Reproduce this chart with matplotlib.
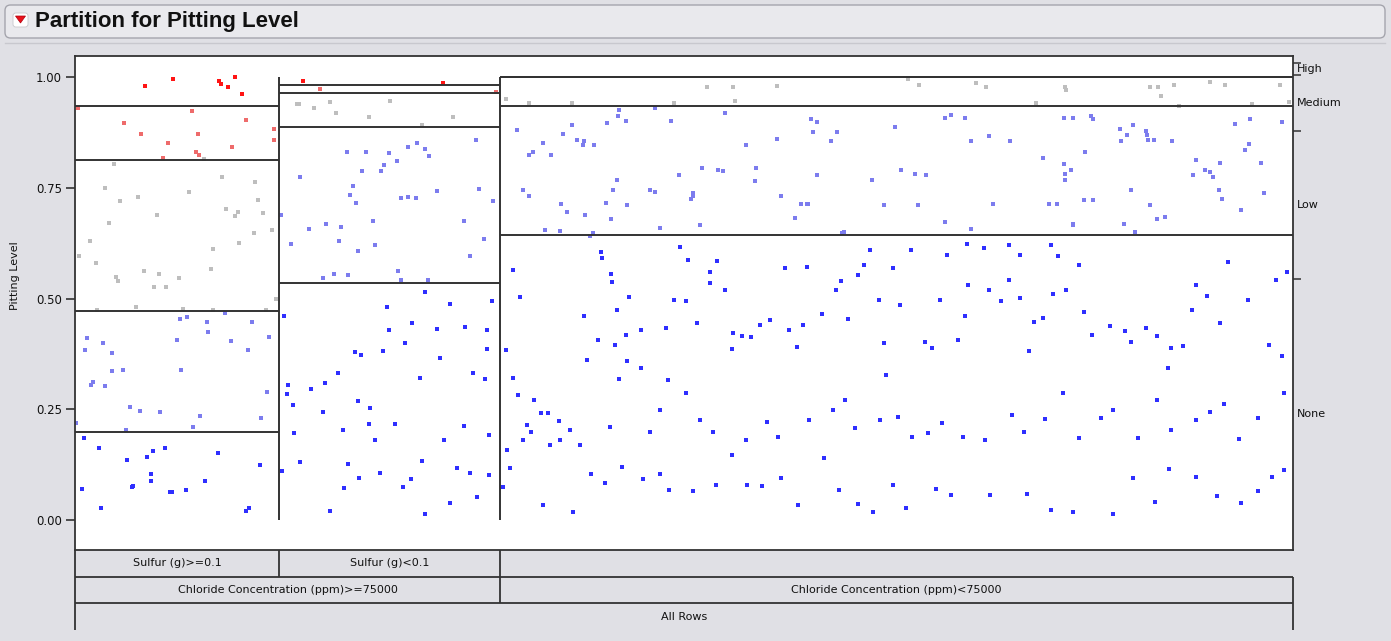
import matplotlib.pyplot as plt
from matplotlib.patches import FancyBboxPatch, Polygon
from matplotlib.lines import Line2D
import numpy as np

# Response levels, bottom to top, and their point colours
levels = ["None", "Low", "Medium", "High", ""]
level_colors = ["#2F2FFF", "#7C7CEE", "#BEBEBE", "#EE6B6B", "#FF1414"]

# Leaves of the tree: share of rows and level proportions (bottom to top)
leaf_labels = ["Sulfur (g)>=0.1", "Sulfur (g)<0.1", ""]
leaf_sizes = [0.1675, 0.1814, 0.6511]
leaf_props = [
    [0.199, 0.273, 0.341, 0.122, 0.065],
    [0.535, 0.352, 0.077, 0.018, 0.018],
    [0.643, 0.291, 0.066, 0.0, 0.0],
]
split_labels = ["Chloride Concentration (ppm)>=75000", "Chloride Concentration (ppm)<75000"]
split_leaves = [2, 1]
root_label = "All Rows"

# Jittered rows: x = position along the row axis, y = position within level band
top_x = [0.0575, 0.0805, 0.118, 0.120, 0.126, 0.131, 0.137, 0.187, 0.302]
top_y = [0.980, 0.995, 0.991, 0.984, 0.977, 1.000, 0.962, 0.991, 0.986]

high_x = [0.0025, 0.096, 0.040, 0.140, 0.054, 0.101, 0.163, 0.163, 0.076, 0.129,
          0.099, 0.102, 0.072, 0.201, 0.346]
high_y = [0.930, 0.923, 0.896, 0.903, 0.871, 0.871, 0.883, 0.858, 0.851, 0.842,
          0.831, 0.824, 0.817, 0.973, 0.966]

medium_x = [0.106, 0.032, 0.121, 0.148, 0.025, 0.094, 0.052, 0.150, 0.037, 0.124,
            0.134, 0.154, 0.067, 0.131, 0.028, 0.162, 0.147, 0.012, 0.135, 0.113,
            0.003, 0.017, 0.112, 0.057, 0.069, 0.034, 0.035, 0.085, 0.065, 0.075,
            0.165, 0.050, 0.018, 0.089, 0.113, 0.157,
            0.182, 0.184, 0.196, 0.209, 0.214, 0.241, 0.259, 0.285, 0.310,
            0.354, 0.373, 0.408, 0.492, 0.519, 0.540, 0.542, 0.576, 0.684, 0.693,
            0.740, 0.748, 0.789, 0.813, 0.814, 0.883, 0.889, 0.892, 0.902, 0.932,
            0.944, 0.989, 0.997, 0.906, 0.966]
medium_y = [0.815, 0.804, 0.774, 0.763, 0.749, 0.740, 0.729, 0.722, 0.720, 0.702,
            0.695, 0.693, 0.688, 0.686, 0.670, 0.655, 0.648, 0.630, 0.625, 0.612,
            0.596, 0.580, 0.567, 0.562, 0.555, 0.549, 0.540, 0.546, 0.526, 0.526,
            0.499, 0.481, 0.474, 0.476, 0.474, 0.474,
            0.939, 0.939, 0.930, 0.944, 0.919, 0.910, 0.946, 0.892, 0.910,
            0.950, 0.941, 0.941, 0.941, 0.977, 0.977, 0.946, 0.979, 0.995, 0.982,
            0.986, 0.977, 0.941, 0.977, 0.970, 0.977, 0.977, 0.956, 0.981, 0.989,
            0.982, 0.982, 0.944, 0.934, 0.938]

low_x = [0.123, 0.086, 0.092, 0.108, 0.145, 0.109, 0.010, 0.023, 0.084, 0.128,
         0.159, 0.008, 0.030, 0.142, 0.030, 0.039, 0.087, 0.015, 0.013, 0.025,
         0.158, 0.045, 0.053, 0.070, 0.103, 0.153, 0.001, 0.097, 0.042,
         0.329, 0.223, 0.239, 0.258, 0.273, 0.281, 0.287, 0.291, 0.264, 0.254,
         0.236, 0.251, 0.185, 0.228, 0.226, 0.231, 0.268, 0.273, 0.280, 0.297,
         0.332, 0.343, 0.169, 0.245, 0.206, 0.218, 0.192, 0.319, 0.177, 0.217,
         0.246, 0.232, 0.336, 0.324, 0.265, 0.204, 0.213, 0.224, 0.268, 0.290,
         0.447, 0.476, 0.446, 0.452, 0.437, 0.489, 0.534, 0.363, 0.408, 0.401,
         0.384, 0.412, 0.417, 0.576, 0.551, 0.376, 0.373, 0.391, 0.418, 0.426,
         0.515, 0.528, 0.532, 0.559, 0.496, 0.445, 0.368, 0.442, 0.472, 0.558,
         0.373, 0.476, 0.507, 0.507, 0.399, 0.436, 0.453, 0.506, 0.404, 0.419,
         0.440, 0.480, 0.513, 0.386, 0.398, 0.425, 0.423,
         0.604, 0.609, 0.606, 0.626, 0.621, 0.673, 0.719, 0.714, 0.731, 0.736,
         0.768, 0.750, 0.795, 0.812, 0.818, 0.678, 0.690, 0.699, 0.609, 0.654,
         0.813, 0.580, 0.596, 0.601, 0.692, 0.806, 0.602, 0.664, 0.754, 0.800,
         0.591, 0.714, 0.736, 0.819, 0.630, 0.631,
         0.812, 0.819, 0.834, 0.836, 0.869, 0.858, 0.864, 0.879, 0.880, 0.881,
         0.886, 0.859, 0.901, 0.829, 0.952, 0.965, 0.991, 0.964, 0.961, 0.974,
         0.920, 0.940, 0.928, 0.932, 0.918, 0.934, 0.813, 0.867, 0.939, 0.942,
         0.976, 0.828, 0.836, 0.883, 0.888, 0.957, 0.819, 0.861, 0.870, 0.895]
low_y = [0.467, 0.454, 0.458, 0.447, 0.447, 0.424, 0.411, 0.400, 0.406, 0.404,
         0.413, 0.384, 0.377, 0.384, 0.336, 0.339, 0.339, 0.312, 0.305, 0.302,
         0.289, 0.255, 0.246, 0.244, 0.235, 0.230, 0.219, 0.210, 0.203,
         0.858, 0.831, 0.831, 0.828, 0.842, 0.851, 0.837, 0.822, 0.810, 0.801,
         0.788, 0.788, 0.774, 0.754, 0.734, 0.716, 0.727, 0.729, 0.727, 0.743,
         0.747, 0.720, 0.688, 0.675, 0.668, 0.661, 0.657, 0.675, 0.623, 0.630,
         0.621, 0.607, 0.634, 0.596, 0.562, 0.546, 0.555, 0.553, 0.542, 0.542,
         0.925, 0.930, 0.912, 0.901, 0.897, 0.901, 0.918, 0.880, 0.891, 0.871,
         0.851, 0.858, 0.846, 0.859, 0.846, 0.831, 0.824, 0.825, 0.856, 0.846,
         0.794, 0.790, 0.787, 0.794, 0.779, 0.767, 0.745, 0.745, 0.745, 0.765,
         0.731, 0.740, 0.731, 0.738, 0.713, 0.716, 0.711, 0.725, 0.695, 0.688,
         0.680, 0.660, 0.665, 0.654, 0.652, 0.647, 0.641,
         0.905, 0.898, 0.876, 0.876, 0.856, 0.887, 0.915, 0.908, 0.908, 0.856,
         0.856, 0.866, 0.817, 0.804, 0.790, 0.790, 0.781, 0.778, 0.778, 0.767,
         0.767, 0.731, 0.713, 0.713, 0.711, 0.713, 0.713, 0.711, 0.713, 0.713,
         0.681, 0.673, 0.657, 0.668, 0.648, 0.650,
         0.908, 0.908, 0.912, 0.905, 0.891, 0.882, 0.869, 0.878, 0.869, 0.858,
         0.858, 0.856, 0.856, 0.831, 0.894, 0.905, 0.898, 0.849, 0.835, 0.805,
         0.813, 0.806, 0.790, 0.786, 0.779, 0.774, 0.780, 0.745, 0.745, 0.725,
         0.738, 0.722, 0.722, 0.711, 0.679, 0.700, 0.666, 0.668, 0.650, 0.685]

none_x = [0.007, 0.020, 0.064, 0.074, 0.043, 0.059, 0.117, 0.152, 0.062, 0.062,
          0.107, 0.006, 0.047, 0.048, 0.078, 0.080, 0.091, 0.021, 0.143, 0.140,
          0.287, 0.308, 0.342, 0.256, 0.172, 0.175, 0.174, 0.179, 0.180, 0.170,
          0.185, 0.235, 0.230, 0.253, 0.258, 0.277, 0.297, 0.320, 0.338, 0.338,
          0.327, 0.337, 0.300, 0.271, 0.283, 0.194, 0.205, 0.216, 0.204, 0.232,
          0.242, 0.241, 0.220, 0.246, 0.263, 0.303, 0.319, 0.340, 0.224, 0.233,
          0.250, 0.276, 0.285, 0.314, 0.324, 0.340, 0.221, 0.269, 0.308, 0.330,
          0.209, 0.287,
          0.360, 0.365, 0.354, 0.360, 0.432, 0.433, 0.440, 0.441, 0.455, 0.445,
          0.418, 0.429, 0.443, 0.452, 0.465, 0.453, 0.465, 0.447, 0.420, 0.485,
          0.492, 0.497, 0.503, 0.521, 0.502, 0.511, 0.521, 0.527, 0.534, 0.540,
          0.539, 0.548, 0.555, 0.562, 0.571, 0.583, 0.586, 0.593, 0.598, 0.601,
          0.613, 0.625, 0.629, 0.635, 0.643, 0.648, 0.653, 0.660, 0.664, 0.666,
          0.672, 0.677, 0.686, 0.698, 0.704, 0.710, 0.716, 0.725, 0.731, 0.732,
          0.733, 0.746, 0.750, 0.760, 0.767, 0.767, 0.776, 0.776, 0.783, 0.787,
          0.795, 0.801, 0.803, 0.807, 0.814, 0.824, 0.828, 0.835, 0.850, 0.862,
          0.867, 0.879, 0.888, 0.897, 0.900, 0.910, 0.917, 0.920, 0.929, 0.940,
          0.947, 0.963, 0.986, 0.995, 0.991, 0.980,
          0.364, 0.377, 0.383, 0.388, 0.371, 0.374, 0.368, 0.390, 0.398, 0.355,
          0.397, 0.406, 0.415, 0.439, 0.472, 0.480, 0.487, 0.502, 0.513, 0.524,
          0.551, 0.568, 0.577, 0.603, 0.622, 0.632, 0.640, 0.661, 0.676, 0.687,
          0.700, 0.712, 0.729, 0.747, 0.769, 0.779, 0.796, 0.811, 0.824, 0.842,
          0.852, 0.873, 0.888, 0.900, 0.920, 0.932, 0.943, 0.956, 0.971, 0.993,
          0.351, 0.357, 0.384, 0.409, 0.424, 0.435, 0.449, 0.466, 0.480, 0.488,
          0.507, 0.526, 0.539, 0.552, 0.564, 0.580, 0.594, 0.615, 0.627, 0.643,
          0.655, 0.672, 0.682, 0.707, 0.719, 0.751, 0.782, 0.801, 0.819, 0.852,
          0.869, 0.887, 0.898, 0.920, 0.938, 0.957, 0.971, 0.983, 0.993]
none_y = [0.185, 0.163, 0.156, 0.163, 0.135, 0.142, 0.151, 0.124, 0.104, 0.088,
          0.088, 0.070, 0.074, 0.077, 0.063, 0.063, 0.068, 0.027, 0.027, 0.020,
          0.515, 0.488, 0.494, 0.481, 0.460, 0.305, 0.284, 0.260, 0.196, 0.111,
          0.131, 0.372, 0.379, 0.381, 0.429, 0.445, 0.431, 0.436, 0.429, 0.386,
          0.332, 0.318, 0.366, 0.400, 0.321, 0.296, 0.309, 0.332, 0.244, 0.269,
          0.253, 0.217, 0.203, 0.181, 0.217, 0.181, 0.212, 0.192, 0.126, 0.095,
          0.106, 0.093, 0.133, 0.117, 0.106, 0.102, 0.072, 0.074, 0.038, 0.052,
          0.020, 0.014,
          0.564, 0.503, 0.384, 0.320, 0.605, 0.591, 0.555, 0.537, 0.503, 0.474,
          0.460, 0.406, 0.395, 0.418, 0.429, 0.359, 0.343, 0.318, 0.361, 0.433,
          0.497, 0.616, 0.587, 0.560, 0.494, 0.445, 0.535, 0.585, 0.519, 0.422,
          0.386, 0.415, 0.413, 0.440, 0.451, 0.569, 0.429, 0.390, 0.440, 0.571,
          0.465, 0.519, 0.539, 0.454, 0.553, 0.576, 0.609, 0.497, 0.400, 0.327,
          0.569, 0.485, 0.609, 0.402, 0.388, 0.497, 0.598, 0.406, 0.460, 0.623,
          0.530, 0.614, 0.519, 0.494, 0.542, 0.621, 0.598, 0.501, 0.381, 0.447,
          0.456, 0.621, 0.510, 0.596, 0.519, 0.576, 0.469, 0.418, 0.438, 0.427,
          0.402, 0.433, 0.415, 0.343, 0.388, 0.393, 0.474, 0.530, 0.506, 0.445,
          0.582, 0.497, 0.542, 0.560, 0.370, 0.395,
          0.282, 0.271, 0.242, 0.242, 0.214, 0.199, 0.181, 0.169, 0.181, 0.158,
          0.223, 0.203, 0.169, 0.210, 0.199, 0.248, 0.316, 0.287, 0.226, 0.199,
          0.181, 0.221, 0.187, 0.226, 0.248, 0.271, 0.208, 0.226, 0.232, 0.187,
          0.196, 0.219, 0.187, 0.181, 0.237, 0.199, 0.228, 0.287, 0.185, 0.230,
          0.248, 0.185, 0.271, 0.203, 0.226, 0.244, 0.262, 0.183, 0.230, 0.287,
          0.074, 0.117, 0.034, 0.018, 0.104, 0.084, 0.120, 0.093, 0.104, 0.068,
          0.065, 0.079, 0.147, 0.079, 0.077, 0.095, 0.034, 0.140, 0.068, 0.036,
          0.018, 0.079, 0.027, 0.070, 0.056, 0.056, 0.059, 0.023, 0.018, 0.014,
          0.095, 0.041, 0.115, 0.097, 0.054, 0.038, 0.065, 0.097, 0.113]

level_points = [(none_x, none_y), (low_x, low_y), (medium_x, medium_y),
                (high_x, high_y), (top_x, top_y)]

bg = "#E0E0E5"
frame = "#333333"
W, H = 1391, 641

fig = plt.figure(figsize=(W / 100, H / 100), dpi=100, facecolor=bg)

# report header bar with the disclosure triangle
fig.patches.append(FancyBboxPatch((5 / W, 1 - 38 / H), 1380 / W, 33 / H,
                                  boxstyle="round,pad=0,rounding_size=0.004",
                                  mutation_aspect=W / H, transform=fig.transFigure,
                                  facecolor="#E9E9ED", edgecolor="#A5A5AD", lw=1.0))
fig.patches.append(FancyBboxPatch((13 / W, 1 - 27 / H), 15 / W, 14 / H,
                                  boxstyle="round,pad=0,rounding_size=0.002",
                                  mutation_aspect=W / H, transform=fig.transFigure,
                                  facecolor="white", edgecolor="#C8C8CC", lw=0.6))
fig.patches.append(Polygon([(15.5 / W, 1 - 16 / H), (25.5 / W, 1 - 16 / H), (20.5 / W, 1 - 23 / H)],
                           closed=True, transform=fig.transFigure,
                           facecolor="#E8121A", edgecolor="#B00010", lw=0.5))
fig.text(35 / W, 1 - 21.5 / H, "Partition for Pitting Level", ha="left", va="center",
         fontsize=16, fontweight="bold", family="Liberation Sans", color="#111111")
fig.add_artist(Line2D([5 / W, 1385 / W], [1 - 43 / H, 1 - 43 / H], transform=fig.transFigure,
                      color="#C8C8CE", lw=1.0))

ax = fig.add_axes([75 / W, 1 - 550 / H, 1218 / W, 494 / H])
ax.set_facecolor("white")
ax.set_xlim(0, 1)
ax.set_ylim(-0.0677, 1.0474)
for s in ax.spines.values():
    s.set_color(frame)
    s.set_linewidth(1.3)

leaf_edges = np.concatenate([[0], np.cumsum(leaf_sizes)])

# level boundaries inside each leaf
for i, props in enumerate(leaf_props):
    for b in np.cumsum(props)[:-1]:
        ax.plot([leaf_edges[i], leaf_edges[i + 1]], [b, b], color=frame, lw=1.4,
                solid_capstyle="butt", zorder=3)
for e in leaf_edges[1:-1]:
    ax.plot([e, e], [0, 1], color=frame, lw=1.4, solid_capstyle="butt", zorder=3)

for (xs, ys), c in zip(level_points, level_colors):
    ax.scatter(xs, ys, marker="s", s=7, color=c, linewidths=0, zorder=2)

ax.set_xticks([])
ax.set_yticks([0, 0.25, 0.5, 0.75, 1.0])
ax.set_yticklabels(["0.00", "0.25", "0.50", "0.75", "1.00"])
ax.tick_params(axis="y", length=6.5, width=1.2, color=frame, labelsize=8.5,
               labelcolor="#111111", pad=3)
ax.set_ylabel("Pitting Level", fontsize=8, color="#111111")
ax.yaxis.set_label_coords(-0.045, 0.555)

# overall level shares on the right-hand axis
overall = np.array(leaf_props).T @ np.array(leaf_sizes)
cum = np.concatenate([[0], np.cumsum(overall)])
ax2 = ax.twinx()
ax2.set_ylim(0, 1)
ax2.set_yticks(cum[1:-1])
ax2.set_yticklabels([])
ax2.tick_params(axis="y", length=6, width=1.1, color=frame)
for s in ax2.spines.values():
    s.set_visible(False)
for name, lo, hi in zip(levels, cum[:-1], cum[1:]):
    if name:
        ax2.text(1.0035, (lo + hi) / 2, name, transform=ax2.get_yaxis_transform(),
                 ha="left", va="center", fontsize=8, color="#111111")

# split labels underneath the leaves
lab = fig.add_axes([75 / W, 1 - 630 / H, 1218 / W, 80 / H])
lab.set_xlim(0, 1)
lab.set_ylim(3, 0)
lab.axis("off")
kw = dict(color=frame, lw=1.3, solid_capstyle="butt", clip_on=False)
lab.plot([0, 0], [0, 3], **kw)
lab.plot([1, 1], [1, 3], **kw)
lab.plot([0, 1], [1, 1], **kw)
lab.plot([0, 1], [2, 2], **kw)
lab.plot([leaf_edges[1], leaf_edges[1]], [0, 1], **kw)
lab.plot([leaf_edges[2], leaf_edges[2]], [0, 2], **kw)
for i, name in enumerate(leaf_labels):
    if name:
        lab.text((leaf_edges[i] + leaf_edges[i + 1]) / 2, 0.5, name, ha="center",
                 va="center", fontsize=8, color="#111111")
start = 0
for name, n in zip(split_labels, split_leaves):
    lab.text((leaf_edges[start] + leaf_edges[start + n]) / 2, 1.5, name, ha="center",
             va="center", fontsize=8, color="#111111")
    start += n
lab.text(0.5, 2.5, root_label, ha="center", va="center", fontsize=8, color="#111111")

fig.savefig("out.png", dpi=100, facecolor=bg)
